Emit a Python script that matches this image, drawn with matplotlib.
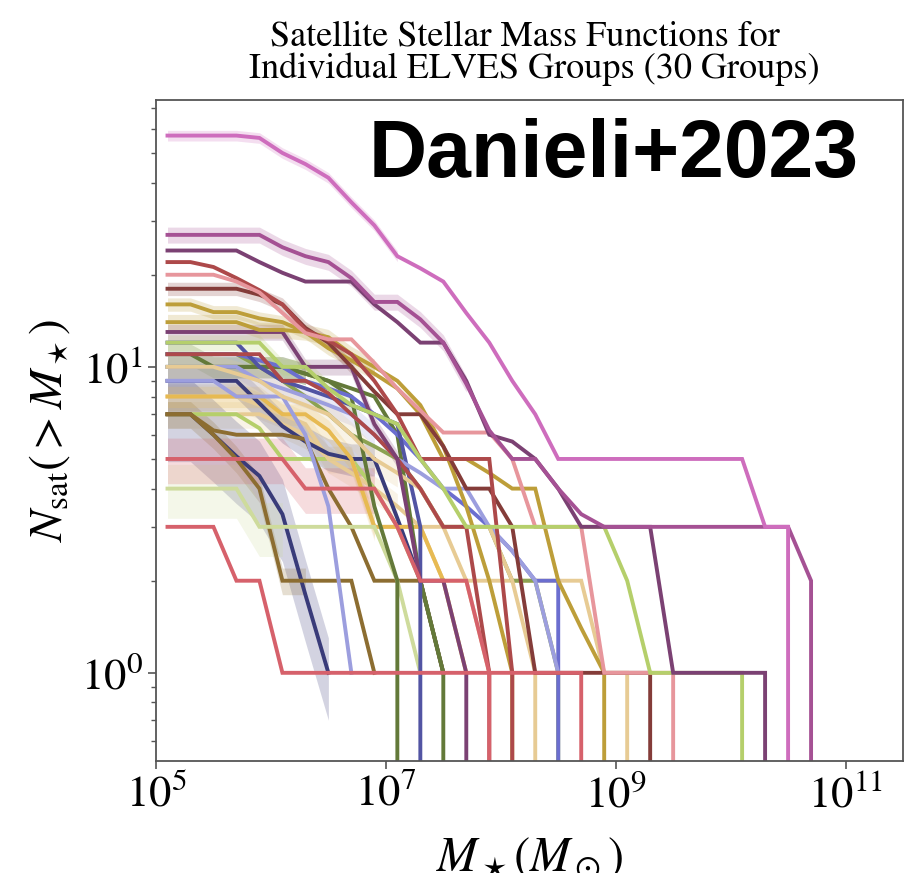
import numpy as np
import matplotlib
matplotlib.use("Agg")
import matplotlib.pyplot as plt
from matplotlib.ticker import NullLocator, LogLocator

plt.rcParams['font.family'] = 'serif'
plt.rcParams['font.serif'] = ['STIXGeneral', 'Liberation Serif', 'DejaVu Serif']
plt.rcParams['mathtext.fontset'] = 'stix'

nan = np.nan

# log10 stellar-mass bins at which the cumulative counts are evaluated
log_mass_bins = [5.1, 5.3, 5.5, 5.7, 5.9, 6.1, 6.3, 6.5, 6.7, 6.9,
                 7.1, 7.3, 7.5, 7.7, 7.9, 8.1, 8.3, 8.5, 8.7, 8.9,
                 9.1, 9.3, 9.5, 9.7, 9.9, 10.1, 10.3, 10.5, 10.7, 10.9]

# cumulative satellite counts N(>M*) per group (0 = no satellites left, nan = not plotted)
n_g01 = [57, 57, 57, 57, 56, 50, 46, 41.5, 34.5, 29, 23, 21, 19, 15, 12, 9, 7, 5, 5, 5, 5, 5, 5, 5, 5, 5, 3, 3, 0]
n_g02 = [27, 27, 27, 27, 27, 24.6, 23, 22, 19.5, 16.3, 16.3, 14.3, 12, 8.8, 6.2, 5, 5, 4, 3.3, 3, 3, 3, 3, 3, 3, 3, 3, 3, 2, 0]
n_g03 = [24, 24, 24, 24, 22, 20.3, 19, 19, 19, 16, 14, 12, 12, 9, 6, 5.7, 5, 4, 3, 3, 3, 3, 1, 1, 1, 1, 1, 0]
n_g04 = [22, 22, 21.2, 19.5, 17.8, 16, 13.2, 12.2, 11, 9, 7, 5, 5, 5, 5, 1, 0]
n_g05 = [20, 20, 20, 19, 17.5, 15, 12.9, 12.3, 12.3, 10.3, 8.5, 7.2, 6.1, 6.1, 6.1, 5, 3, 3, 3, 1, 1, 1, 1, 0]
n_g06 = [18, 18, 18, 18, 17.2, 16, 13.4, 12, 10, 8.3, 7, 7, 5.5, 4, 4, 3, 1, 1, 1, 1, 1, 1, 0]
n_g07 = [16, 16, 15.1, 15.1, 14.4, 14, 13, 11.5, 10.5, 9.5, 8.5, 7, 5, 5, 4.5, 4, 4, 2, 1.4, 1, 0]
n_g08 = [14, 14, 14, 14, 13.2, 13.2, 13, 12.5, 11, 10, 9, 7.5, 5.5, 3.5, 2, 1, 0]
n_g09 = [13, 13, 13, 13, 13, 13, 10, 10, 10, 6.5, 5, 2, 2, 1, 0]
n_g10 = [12, 12, 12, 12, 12, 10, 10, 8.5, 7.5, 7, 6.5, 5, 4, 3, 3, 3, 3, 3, 3, 3, 2, 1, 1, 1, 1, 1, 0]
n_g11 = [11, 11, 11, 11, 11, 9, 9, 8.2, 7, 6, 5, 4, 3, 3, 1, 0]
n_g12 = [10, 10, 10, 9.5, 9, 8, 7.5, 7, 6, 5, 4.5, 4, 3, 3, 3, 2, 1, 0]
n_g13 = [9, 9, 9, 8, 8, 8, 6, 3.5, 1, nan]
n_g14 = [10, 10, 10, 10, 9, 8.5, 8, 7.5, 7, 6, 5, 4.5, 4, 4, 3, 2.5, 2, 1, nan]
n_g15 = [12, 12, 12, 12, 10, 9, 8.5, 8, 7.5, 7, 6.5, 3, 0]
n_g16 = [11, 11, 11, 11, 10.5, 10, 9, 8.5, 8, 7, 6, 5, 4, 3.5, 3, 2.5, 2, 2, 0]
n_g17 = [10, 10, 10, 10, 10, 10, 9.5, 9, 8, 3.5, 2, 0]
n_g18 = [11, 11, 10, 10, 10, 10, 9.5, 9, 8.5, 8, 6, 2, 1, 0]
n_g19 = [11, 11, 11, 11, 10, 9, 8, 7, 6, 5.5, 5, 4, 3, 3, 3, 2, 2, 1, 0]
n_g20 = [4, 4, 4, 4, 3, 3, 3, 3, 3, 3, 2, 1, nan]
n_g21 = [5, 5, 5, 5, 5, 5, 4, 4, 4, 4, 3, 2, 2, 2, 1, 0]
n_g22 = [3, 3, 3, 2, 2, 1, 1, 1, 1, 1, 1, 1, 1, 1, 1, 1, 1, 1, 1, 0]
n_g23 = [8, 8, 8, 8, 8, 7, 7, 6.2, 5, 3, 3, 3, 2, 1, nan]
n_g24 = [7, 7, 6, 5, 4, 2, 2, 2, 2, 1, nan]
n_g25 = [7, 7, 6.2, 6, 6, 6, 5.8, 4, 3, 2, 2, 2, 1, nan]
n_g26 = [7, 7, 6, 5.1, 4.4, 3.3, 1.8, 1, nan]
n_g27 = [9, 9, 9, 9, 7.6, 6.4, 5.7, 5.2, 5, 5, 3.2, 2, 1, nan]
n_g28 = [8, 8, 8, 8, 7.5, 7, 6.5, 5, 5, 3, 3, 3, 3, 2, 2, 2, 2, 2, 2, 1, 1, 0]
n_g29 = [7, 7, 7, 7, 6.3, 5, 5, 5, 5, 4, 3, 2, 1, nan]
n_g30 = [7, 7, 7, 7, 7, 6.5, 6, 5, 4.5, 4, 3.5, 3, 2, 2, 1, nan]

# shaded uncertainty band: fractional half-width, and number of low-mass bins it covers
band_g = {
    'g01': (0.04, 11), 'g02': (0.06, 14), 'g06': (0.05, 9), 'g07': (0.05, 10),
    'g08': (0.06, 10), 'g09': (0.06, 11), 'g10': (0.06, 9), 'g12': (0.10, 11),
    'g14': (0.08, 10), 'g17': (0.08, 7), 'g18': (0.08, 7), 'g20': (0.20, 6),
    'g21': (0.17, 10), 'g23': (0.08, 10), 'g24': (0.10, 7), 'g26': (0.30, 8),
    'g27': (0.12, 10), 'g28': (0.10, 10), 'g30': (0.10, 11),
}

group_colors = {
    'g01': '#ce6dbd', 'g02': '#a55194', 'g03': '#7b4173', 'g04': '#ad494a',
    'g05': '#e7969c', 'g06': '#843c39', 'g07': '#bd9e39', 'g08': '#bd9e39',
    'g09': '#7b4173', 'g10': '#b5cf6b', 'g11': '#ad494a', 'g12': '#e7cb94',
    'g13': '#9c9ede', 'g14': '#9c9ede', 'g15': '#5254a3', 'g16': '#6b6ecf',
    'g17': '#637939', 'g18': '#637939', 'g19': '#8ca252', 'g20': '#cedb9c',
    'g21': '#d6616b', 'g22': '#d6616b', 'g23': '#e7ba52', 'g24': '#8c6d31',
    'g25': '#8c6d31', 'g26': '#393b79', 'g27': '#393b79', 'g28': '#e7cb94',
    'g29': '#b5cf6b', 'g30': '#e7cb94',
}

groups = {
    'g01': n_g01, 'g02': n_g02, 'g03': n_g03, 'g04': n_g04, 'g05': n_g05,
    'g06': n_g06, 'g07': n_g07, 'g08': n_g08, 'g09': n_g09, 'g10': n_g10,
    'g11': n_g11, 'g12': n_g12, 'g13': n_g13, 'g14': n_g14, 'g15': n_g15,
    'g16': n_g16, 'g17': n_g17, 'g18': n_g18, 'g19': n_g19, 'g20': n_g20,
    'g21': n_g21, 'g22': n_g22, 'g23': n_g23, 'g24': n_g24, 'g25': n_g25,
    'g26': n_g26, 'g27': n_g27, 'g28': n_g28, 'g29': n_g29, 'g30': n_g30,
}

# drawing order (later = on top)
draw_order = ['g30', 'g29', 'g28', 'g27', 'g26', 'g25', 'g24', 'g23', 'g20',
              'g19', 'g18', 'g17', 'g16', 'g15', 'g14', 'g13', 'g12', 'g11',
              'g09', 'g08', 'g07', 'g06', 'g04', 'g21', 'g22', 'g05', 'g10',
              'g03', 'g02', 'g01']

fig = plt.figure(figsize=(9.08, 8.73), dpi=100)
ax = fig.add_axes([156 / 908, 1 - 761 / 873, 747 / 908, 661 / 873])
ax.set_xscale('log')
ax.set_yscale('log')

for z, key in enumerate(draw_order):
    vals = np.array(groups[key], dtype=float)
    mass = 10 ** np.array(log_mass_bins[:len(vals)])
    col = group_colors[key]
    if key in band_g:
        frac, nb = band_g[key]
        v, m = vals[:nb], mass[:nb]
        ok = np.isfinite(v) & (v > 0)
        ax.fill_between(m[ok], v[ok] * (1 - frac), v[ok] * (1 + frac),
                        color=col, alpha=0.22, linewidth=0, zorder=1)
    ax.plot(mass, vals, color=col, lw=2.8, solid_joinstyle='miter',
            zorder=2 + z * 0.01)

ax.set_xlim(1e5, 10 ** 11.5)
ax.set_ylim(0.515, 74.5)
ax.set_xticks([1e5, 1e7, 1e9, 1e11])
ax.xaxis.set_minor_locator(NullLocator())
ax.yaxis.set_major_locator(LogLocator(base=10, numticks=10))

ax.tick_params(which='both', direction='out', color='#555555', labelsize=32)
ax.tick_params(which='major', length=6, width=1.2)
ax.tick_params(which='minor', length=3.5, width=1.0)
for s in ax.spines.values():
    s.set_color('#555555')
    s.set_linewidth(1.3)

ax.set_ylabel(r'$N_{\rm sat}(>M_\star)$', fontsize=34, labelpad=6)
ax.set_xlabel(r'$M_\star(M_\odot)$', fontsize=35, labelpad=14)

ax.set_title('Satellite Stellar Mass Functions for \n Individual ELVES Groups (30 Groups)',
             fontsize=26, linespacing=0.95, pad=16)

ax.text(0.94, 0.8835, 'Danieli+2023', transform=ax.transAxes, ha='right',
        va='baseline', fontsize=58, fontweight='bold', family='Liberation Sans',
        zorder=10)

fig.savefig('out.png', dpi=100)
